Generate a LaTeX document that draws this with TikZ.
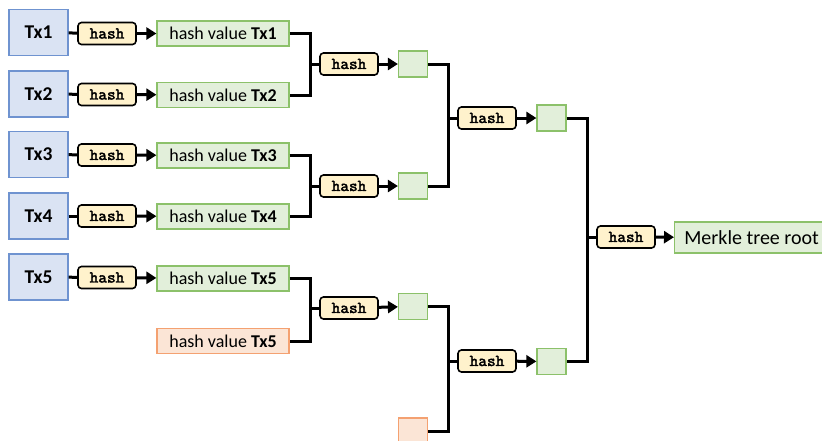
\documentclass[tikz,border=0pt]{standalone}
\usepackage{fontspec}
\setmainfont{Carlito}
\newfontfamily\hashfont{lmmono10-regular}[Extension=.otf, FakeBold=2.2]
\usetikzlibrary{arrows.meta}

\definecolor{txfill}{HTML}{DAE3F3}
\definecolor{txline}{HTML}{6F93D0}
\definecolor{hvfill}{HTML}{E2EFDA}
\definecolor{hvline}{HTML}{8CC16A}
\definecolor{padfill}{HTML}{FBE5D6}
\definecolor{padline}{HTML}{F4A171}
\definecolor{hashfill}{HTML}{FFF2CC}

\tikzset{
	txbox/.style={draw=txline, fill=txfill, line width=1.2pt, minimum width=59pt, minimum height=46pt, inner sep=0pt, font=\fontsize{19.5}{21}\selectfont\bfseries},
	hashbox/.style={draw=black, fill=hashfill, line width=1.6pt, rounded corners=3.5pt, minimum width=58pt, minimum height=22pt, inner sep=0pt, font=\hashfont\fontsize{16.5}{18}\selectfont},
	hvbox/.style={draw=hvline, fill=hvfill, line width=1.2pt, minimum width=132pt, minimum height=25pt, inner sep=0pt, font=\fontsize{18}{20}\selectfont},
	padbox/.style={hvbox, draw=padline, fill=padfill},
	sqbox/.style={draw=hvline, fill=hvfill, line width=1.2pt, minimum width=29pt, minimum height=26pt, inner sep=0pt},
	sqpad/.style={sqbox, draw=padline, fill=padfill},
	conn/.style={line width=3pt},
	arr/.style={line width=3pt, -{Triangle[length=10pt, width=12pt]}}
}

\begin{document}
\begin{tikzpicture}[x=1pt, y=-1pt]
		\useasboundingbox (0,0) rectangle (822,440);
		\clip (0,0) rectangle (822,440);

		% Transactions
		\node[txbox] (tx1) at (38.5,32.5) {Tx1};
		\node[txbox] (tx2) at (38.5,94) {Tx2};
		\node[txbox] (tx3) at (38.5,154.5) {Tx3};
		\node[txbox] (tx4) at (38.5,216) {Tx4};
		\node[txbox] (tx5) at (38.5,277) {Tx5};

		% First hashing
		\node[hashbox] (h1) at (107,33.5) {hash};
		\node[hashbox] (h2) at (107,94.5) {hash};
		\node[hashbox] (h3) at (107,155) {hash};
		\node[hashbox] (h4) at (107,216) {hash};
		\node[hashbox] (h5) at (107,277.5) {hash};

		\node[hvbox] (hv1) at (223,33.5) {hash value \textbf{Tx1}};
		\node[hvbox] (hv2) at (223,95) {hash value \textbf{Tx2}};
		\node[hvbox] (hv3) at (223,155.5) {hash value \textbf{Tx3}};
		\node[hvbox] (hv4) at (223,216.5) {hash value \textbf{Tx4}};
		\node[hvbox] (hv5) at (223,278.5) {hash value \textbf{Tx5}};
		\node[padbox] (hv5b) at (223,341) {hash value \textbf{Tx5}};

		\foreach \i in {1,...,5} {
			\draw[conn] (tx\i) -- (h\i);
			\draw[arr] (h\i) -- (hv\i);
		}

		% Second level
		\coordinate (j12) at (310,64);
		\coordinate (j34) at (310,186);
		\coordinate (j55) at (310,308);
		\node[hashbox] (h12) at (349,64) {hash};
		\node[hashbox] (h34) at (349,186) {hash};
		\node[hashbox] (h55) at (349,308) {hash};
		\node[sqbox] (s12) at (413,64) {};
		\node[sqbox] (s34) at (413,186) {};
		\node[sqbox] (s55) at (413,306.5) {};
		\node[sqpad] (s55b) at (413,431) {};

		\draw[conn] (hv1.east) -| (j12) |- (hv2.east);
		\draw[conn] (hv3.east) -| (j34) |- (hv4.east);
		\draw[conn] (hv5.east) -| (j55) |- (hv5b.east);
		\draw[conn] (j12) -- (h12);
		\draw[conn] (j34) -- (h34);
		\draw[conn] (j55) -- (h55);
		\draw[arr] (h12) -- (s12);
		\draw[arr] (h34) -- (s34);
		\draw[arr] (h55) -- (s55);

		% Third level
		\coordinate (j14) at (448,118);
		\coordinate (j5) at (448,361);
		\node[hashbox] (h14) at (487,118) {hash};
		\node[hashbox] (h5b) at (487,361) {hash};
		\node[sqbox] (s14) at (551.5,118) {};
		\node[sqbox] (s5) at (551.5,361.5) {};

		\draw[conn] (s12.east) -| (j14) |- (s34.east);
		\draw[conn] (s55.east) -| (j5) |- (s55b.east);
		\draw[conn] (j14) -- (h14);
		\draw[conn] (j5) -- (h5b);
		\draw[arr] (h14) -- (s14);
		\draw[arr] (h5b) -- (s5);

		% Root
		\coordinate (jr) at (587,237);
		\node[hashbox] (hr) at (626,237) {hash};
		\node[hvbox, anchor=west, minimum width=160pt, minimum height=31pt, font=\fontsize{20}{22}\selectfont] (root) at (674,237.5) {\hspace{-6pt}Merkle tree root};

		\draw[conn] (s14.east) -| (jr) |- (s5.east);
		\draw[conn] (jr) -- (hr);
		\draw[arr] (hr) -- (root);
	\end{tikzpicture}
\end{document}
